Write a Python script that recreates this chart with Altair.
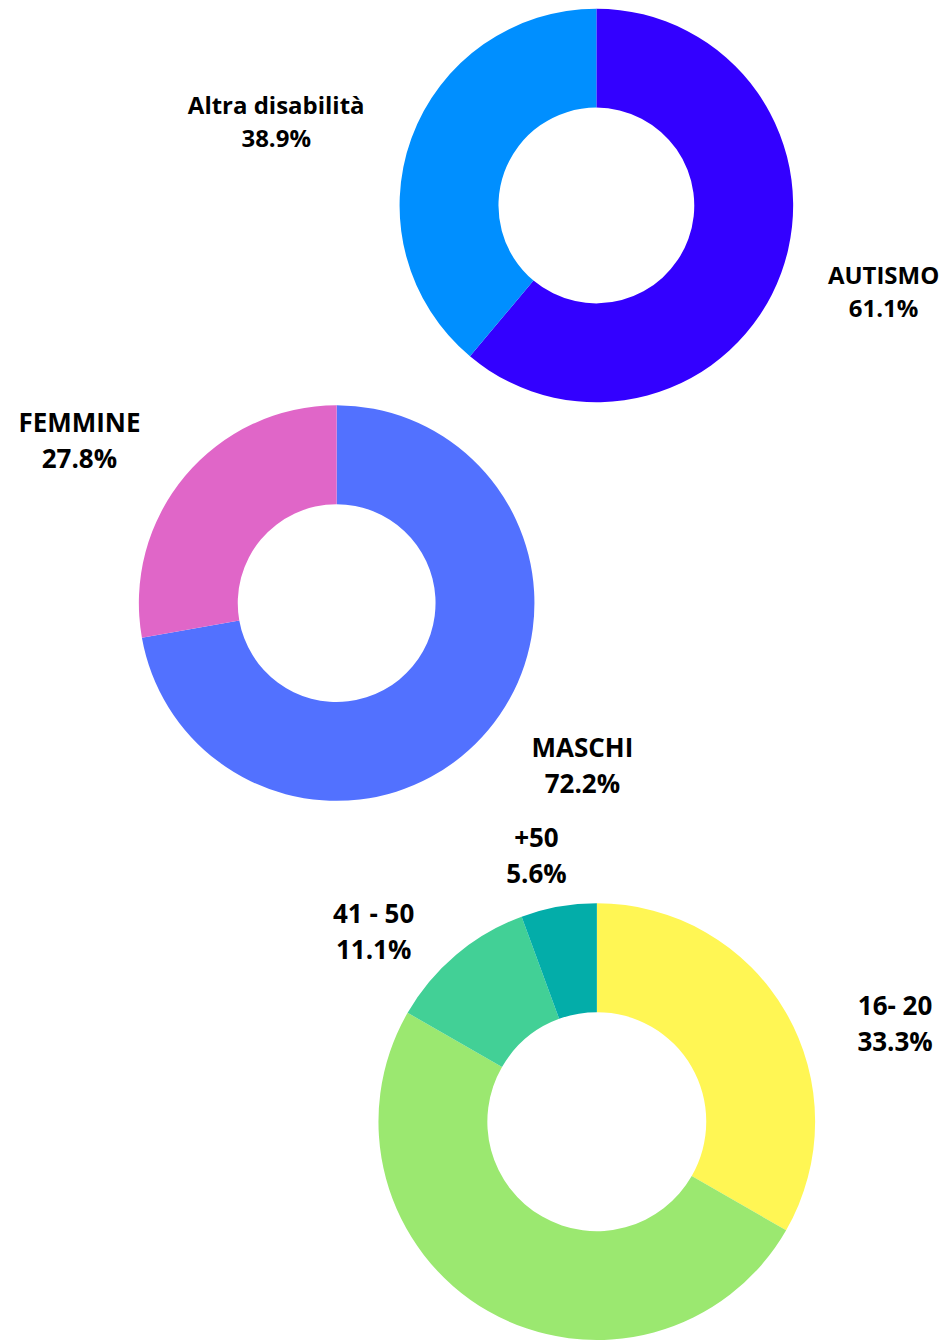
import altair as alt
import pandas as pd

# ---- data ----
d1_labels = ["AUTISMO", "Altra disabilità"]
d1_values = [61.1, 38.9]
d1_colors = ["#3300FF", "#008FFF"]

d2_labels = ["MASCHI", "FEMMINE"]
d2_values = [72.2, 27.8]
d2_colors = ["#5271FF", "#E066C8"]

d3_labels = ["16- 20", "", "41 - 50", "+50"]
d3_values = [33.3, 50.0, 11.1, 5.6]
d3_colors = ["#FFF654", "#9BE870", "#42D096", "#03ADA9"]

# ---- layout (chart pixel coordinates) ----
donuts = [
    dict(cx=589, cy=197, r=197, r2=98, fs=24, lh=33,
         lab_pos=[(876.5, 268.5), (268.5, 98.5)]),
    dict(cx=329, cy=595, r=198, r2=99, fs=26, lh=36,
         lab_pos=[(575, 741.5), (71.5, 415.5)]),
    dict(cx=589.5, cy=1114, r=218.5, r2=109.5, fs=26, lh=36,
         lab_pos=[(888, 999.5), None, (366, 907.5), (529, 831.5)]),
]

datasets = [
    (d1_labels, d1_values, d1_colors),
    (d2_labels, d2_values, d2_colors),
    (d3_labels, d3_values, d3_colors),
]

layers = []
for (labels, values, colors), lay in zip(datasets, donuts):
    df = pd.DataFrame({
        "cat": labels,
        "value": values,
        "color": colors,
        "order": list(range(len(labels))),
    })
    arc = alt.Chart(df).mark_arc(
        radius=lay["r"], radius2=lay["r2"], stroke=None
    ).encode(
        theta=alt.Theta("value:Q", stack=True),
        color=alt.Color("color:N", scale=None),
        order=alt.Order("order:Q"),
        x=alt.value(lay["cx"]),
        y=alt.value(lay["cy"]),
    )
    layers.append(arc)

    rows = []
    for lab, val, pos in zip(labels, values, lay["lab_pos"]):
        if pos is None:
            continue
        rows.append({"txt": f"{lab}\n{val:.1f}%", "px": pos[0], "py": pos[1]})
    tdf = pd.DataFrame(rows)
    txt = alt.Chart(tdf).mark_text(
        font="Open Sans", fontWeight="bold", fontSize=lay["fs"],
        lineHeight=lay["lh"], lineBreak="\n", align="center",
        baseline="middle", color="#000000",
    ).encode(
        x=alt.X("px:Q", scale=None, axis=None),
        y=alt.Y("py:Q", scale=None, axis=None),
        text="txt:N",
    )
    layers.append(txt)

chart = alt.layer(*layers).properties(
    width=932, height=1332, padding=0
).configure_view(stroke=None).resolve_scale(theta="independent")

chart.save("out.html", embed_options={"renderer": "svg", "actions": False})
